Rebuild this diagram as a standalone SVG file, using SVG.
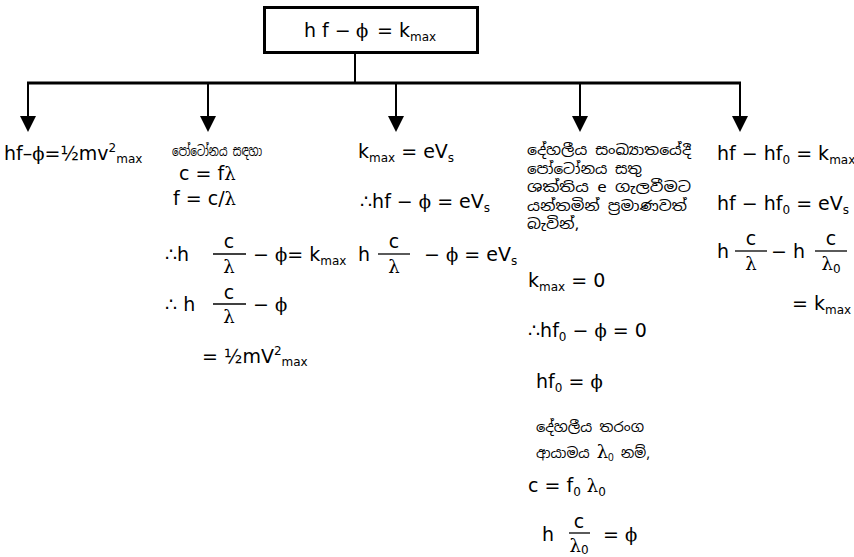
<svg xmlns="http://www.w3.org/2000/svg" width="854" height="557" viewBox="0 0 854 557">
<defs>
<style>
.t{font-family:"DejaVu Sans","Liberation Sans",sans-serif;font-size:19px;fill:#000}
.g{font-family:"DejaVu Serif","Liberation Serif",serif;font-size:18px}
.s{font-size:12px}
.si{font-family:"Noto Sans Sinhala","Noto Sans","DejaVu Sans",sans-serif;font-size:14px;fill:#000}
.bar{stroke:#000;stroke-width:1.3}
.ln{stroke:#000;fill:none}
</style>
</defs>
<rect width="854" height="557" fill="#fff"/>

<g id="connectors">
<line class="ln" x1="355" y1="53" x2="355" y2="83" stroke-width="2"/>
<line class="ln" x1="27" y1="83" x2="741" y2="83" stroke-width="3"/>
<g stroke="#000" stroke-width="2">
<line x1="28" y1="83" x2="28" y2="118"/>
<line x1="208" y1="83" x2="208" y2="118"/>
<line x1="396" y1="83" x2="396" y2="118"/>
<line x1="580" y1="83" x2="580" y2="118"/>
<line x1="740" y1="83" x2="740" y2="118"/>
</g>
<g fill="#000">
<polygon points="20,116 36,116 28,132"/>
<polygon points="200,116 216,116 208,132"/>
<polygon points="388,116 404,116 396,132"/>
<polygon points="572,116 588,116 580,132"/>
<polygon points="732,116 748,116 740,132"/>
</g>
</g>

<g id="top">
<rect x="264.5" y="7.5" width="213" height="45" fill="#fff" stroke="#000" stroke-width="3"/>
<text class="t" x="304" y="37" font-size="20">h f − </text>
<text class="t g" x="356" y="37" font-size="19">ϕ</text>
<text class="t" x="377" y="37" font-size="20">=</text>
<text class="t" x="399" y="37" font-size="20">k<tspan class="s" dy="4">max</tspan></text>
</g>

<g id="col1">
<text class="t" x="4" y="160">hf–<tspan class="g">ϕ</tspan>=½mv<tspan class="s" dy="-8">2</tspan><tspan class="s" dy="11">max</tspan></text>
</g>

<g id="col2">
<text class="si" x="172" y="156" textLength="90" lengthAdjust="spacingAndGlyphs">පෝටෝනය සඳහා</text>
<text class="t" x="179" y="180">c = f<tspan class="g">λ</tspan></text>
<text class="t" x="173" y="205">f = c/<tspan class="g">λ</tspan></text>
<text class="t" x="165" y="261">∴h</text>
<text class="t" x="229" y="248" text-anchor="middle">c</text>
<line class="bar" x1="213" y1="254" x2="246" y2="254"/>
<text class="t g" x="229" y="273" text-anchor="middle">λ</text>
<text class="t" x="253" y="261">− <tspan class="g">ϕ</tspan>= k<tspan class="s" dy="4">max</tspan></text>
<text class="t" x="165" y="311">∴ h</text>
<text class="t" x="229" y="299" text-anchor="middle">c</text>
<line class="bar" x1="213" y1="304" x2="246" y2="304"/>
<text class="t g" x="229" y="323" text-anchor="middle">λ</text>
<text class="t" x="253" y="311">− <tspan class="g">ϕ</tspan></text>
<text class="t" x="202" y="363">= ½mV<tspan class="s" dy="-8">2</tspan><tspan class="s" dy="11">max</tspan></text>
</g>

<g id="col3">
<text class="t" x="358" y="158">k<tspan class="s" dy="4">max</tspan><tspan dy="-4"> = eV</tspan><tspan class="s" dy="4">s</tspan></text>
<text class="t" x="360" y="208">∴hf − <tspan class="g">ϕ</tspan> = eV<tspan class="s" dy="4">s</tspan></text>
<text class="t" x="358" y="261">h</text>
<text class="t" x="394" y="248" text-anchor="middle">c</text>
<line class="bar" x1="378" y1="254" x2="410" y2="254"/>
<text class="t g" x="394" y="273" text-anchor="middle">λ</text>
<text class="t" x="424" y="261">− <tspan class="g">ϕ</tspan> = eV<tspan class="s" dy="4">s</tspan></text>
</g>

<g id="col4">
<text class="si" x="527" y="155" textLength="164" lengthAdjust="spacingAndGlyphs">දේහලීය සංඛ්‍යාතයේදී</text>
<text class="si" x="527" y="173.5" textLength="115" lengthAdjust="spacingAndGlyphs">පෝටෝනය සතු</text>
<text class="si" x="527" y="192" textLength="164" lengthAdjust="spacingAndGlyphs">ශක්තිය e ගැලවීමට</text>
<text class="si" x="527" y="210.5" textLength="160" lengthAdjust="spacingAndGlyphs">යන්තමින් ප්‍රමාණවත්</text>
<text class="si" x="527" y="229" textLength="52" lengthAdjust="spacingAndGlyphs">බැවින්,</text>
<text class="t" x="528" y="287">k<tspan class="s" dy="4">max</tspan><tspan dy="-4"> = 0</tspan></text>
<text class="t" x="528" y="337">∴hf<tspan class="s" dy="4">0</tspan><tspan dy="-4"> − </tspan><tspan class="g">ϕ</tspan> = 0</text>
<text class="t" x="536" y="388">hf<tspan class="s" dy="4">0</tspan><tspan dy="-4"> = </tspan><tspan class="g">ϕ</tspan></text>
<text class="si" x="536" y="432" textLength="108" lengthAdjust="spacingAndGlyphs">දේහලීය තරංග</text>
<text class="si" x="536" y="458">ආයාමය <tspan class="g" font-size="17">λ</tspan><tspan font-size="10" dy="3">0</tspan><tspan dy="-3"> නම්,</tspan></text>
<text class="t" x="528" y="492">c = f<tspan class="s" dy="4">0</tspan><tspan dy="-4"> </tspan><tspan class="g">λ</tspan><tspan class="s" dy="4">0</tspan></text>
<text class="t" x="542" y="541">h</text>
<text class="t" x="579" y="528" text-anchor="middle">c</text>
<line class="bar" x1="569" y1="533" x2="590" y2="533"/>
<text class="t" x="579" y="552" text-anchor="middle"><tspan class="g">λ</tspan><tspan class="s" dy="2">0</tspan></text>
<text class="t" x="603" y="541">= <tspan class="g">ϕ</tspan></text>
</g>

<g id="col5">
<text class="t" x="717" y="160">hf − hf<tspan class="s" dy="4">0</tspan><tspan dy="-4"> = k</tspan><tspan class="s" dy="4">max</tspan></text>
<text class="t" x="717" y="210">hf − hf<tspan class="s" dy="4">0</tspan><tspan dy="-4"> = eV</tspan><tspan class="s" dy="4">s</tspan></text>
<text class="t" x="717" y="258">h</text>
<text class="t" x="751" y="245" text-anchor="middle">c</text>
<line class="bar" x1="735" y1="251" x2="767" y2="251"/>
<text class="t g" x="751" y="270" text-anchor="middle">λ</text>
<text class="t" x="771" y="258">− h</text>
<text class="t" x="831" y="245" text-anchor="middle">c</text>
<line class="bar" x1="815" y1="251" x2="847" y2="251"/>
<text class="t" x="831" y="270" text-anchor="middle"><tspan class="g">λ</tspan><tspan class="s" dy="3">0</tspan></text>
<text class="t" x="792" y="310">= k<tspan class="s" dy="4">max</tspan></text>
</g>
</svg>
